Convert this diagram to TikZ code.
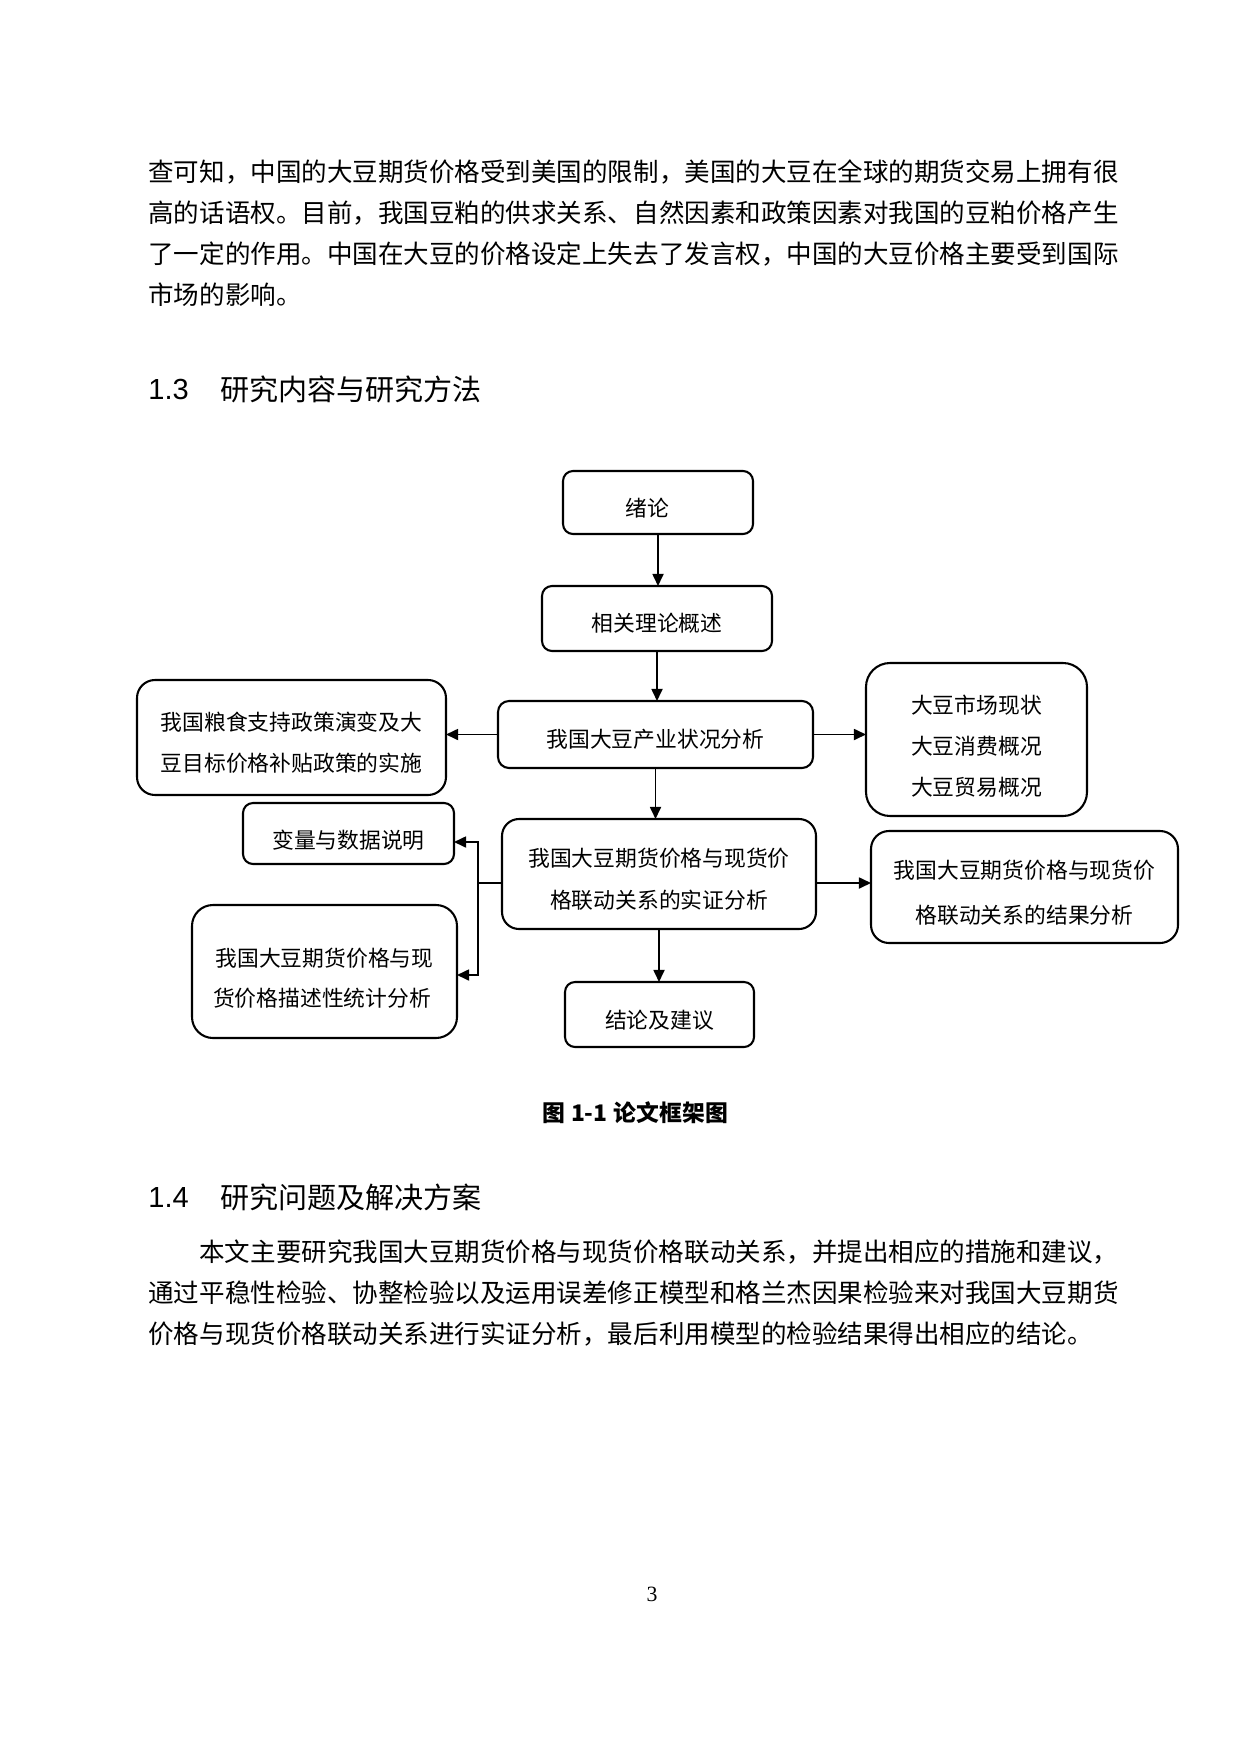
\documentclass[tikz,border=0pt]{standalone}
\usepackage{fontspec}
\newfontfamily\cjk{Noto Sans CJK SC}
\newfontfamily\tms{Liberation Serif}
\newfontfamily\arl{Liberation Sans}
\usetikzlibrary{arrows.meta}
% multi-line box text: #1 line pitch, #2 vertical shift, #3 rows separated by \cr
\newcommand\bt[3]{\raisebox{#2}[\height][\depth]{\vbox{\baselineskip=#1\lineskiplimit=-100pt\lineskip=0pt\halign{\hfil##\hfil\cr#3\crcr}}}}
\begin{document}
\begin{tikzpicture}[x=0.4818pt,y=-0.4818pt,
  bx/.style n args={3}{draw, line width=1pt, inner sep=0pt, outer sep=0pt,
     minimum width=#1*0.4818pt, minimum height=#2*0.4818pt,
     rounded corners=#3*0.4818pt, font=\cjk\fontsize{10.5pt}{13pt}\selectfont},
  arr/.style={-{Triangle[length=5.8pt,width=5.3pt]}, line width=0.85pt},
  ln/.style={line width=0.85pt},
  para/.style={anchor=west, inner sep=0pt, font=\cjk\fontsize{12.3pt}{15pt}\selectfont},
  head/.style={anchor=west, inner sep=0pt, font=\cjk\fontsize{14pt}{17pt}\selectfont},
  headnum/.style={anchor=west, inner sep=0pt, font=\arl\fontsize{14pt}{17pt}\selectfont}]
\useasboundingbox (0,0) rectangle (1240,1754);

% body text above
\node[para] (p1) at (148,172) {查可知，中国的大豆期货价格受到美国的限制，美国的大豆在全球的期货交易上拥有很};
\node[para] (p2) at (148,213) {高的话语权。目前，我国豆粕的供求关系、自然因素和政策因素对我国的豆粕价格产生};
\node[para] (p3) at (148,254) {了一定的作用。中国在大豆的价格设定上失去了发言权，中国的大豆价格主要受到国际};
\node[para] (p4) at (148,295) {市场的影响。};

% heading 1.3
\node[headnum] (h13n) at (148,389) {1.3};
\node[head] (h13) at (220,389) {研究内容与研究方法};

% boxes
\node[bx={190}{63}{10}] (A) at (658,502.5) {\raisebox{-2.65pt}[\height][\depth]{绪论\kern10.6pt}};
\node[bx={230}{65}{10}] (B) at (657,618.5) {\raisebox{-2.4pt}[\height][\depth]{相关理论概述}};
\node[bx={315}{67}{11}] (C) at (655.5,734.5) {\raisebox{-2.3pt}[\height][\depth]{我国大豆产业状况分析}};
\node[bx={309}{115}{18}] (D) at (291.5,737.5) {\bt{19.75pt}{-2.5pt}{我国粮食支持政策演变及大\cr 豆目标价格补贴政策的实施}};
\node[bx={221}{153}{24}] (E) at (976.5,739.5) {\bt{19.75pt}{-3.1pt}{大豆市场现状\cr 大豆消费概况\cr 大豆贸易概况}};
\node[bx={314}{110}{17}] (F) at (659,874) {\bt{20.24pt}{-2.5pt}{我国大豆期货价格与现货价\cr 格联动关系的实证分析}};
\node[bx={307}{112}{18}] (G) at (1024.5,887) {\bt{21.68pt}{-2.65pt}{我国大豆期货价格与现货价\cr 格联动关系的结果分析}};
\node[bx={211}{61}{10}] (H) at (348.5,833.5) {\raisebox{-3.1pt}[\height][\depth]{变量与数据说明}};
\node[bx={265}{133}{21}] (I) at (324.5,971.5) {\bt{19.27pt}{-3.1pt}{我国大豆期货价格与现\cr 货价格描述性统计分析\kern2.4pt}};
\node[bx={189}{65}{10}] (J) at (659.5,1014.5) {\raisebox{-2.65pt}[\height][\depth]{结论及建议}};

% connectors
\draw[arr] (A.south) -- (A.south |- B.north);
\draw[arr] (B.south) -- (B.south |- C.north);
\draw[arr] (C.west) -- (D.east |- C.west);
\draw[arr] (C.east) -- (E.west |- C.east);
\draw[arr] (C.south) -- (C.south |- F.north);
\draw[arr] (F.south) -- (F.south |- J.north);
\coordinate (fj) at (478,883);
\coordinate (hy) at (0,842);
\coordinate (iy) at (0,975);
\draw[arr] (F.east |- fj) -- (G.west |- fj);
\draw[ln] (F.west |- fj) -- (fj);
\draw[arr] (fj) |- (H.east |- hy);
\draw[arr] (fj) |- (I.east |- iy);

% caption
\node[inner sep=0pt, font=\cjk\bfseries\fontsize{11pt}{13pt}\selectfont] (cap) at (635,1113) {图\kern3pt 1-1\kern3pt 论文框架图};

% heading 1.4
\node[headnum] (h14n) at (148,1197) {1.4};
\node[head] (h14) at (220,1197) {研究问题及解决方案};

% body text below
\node[para] (q1) at (199,1252) {本文主要研究我国大豆期货价格与现货价格联动关系，并提出相应的措施和建议，};
\node[para] (q2) at (148,1293) {通过平稳性检验、协整检验以及运用误差修正模型和格兰杰因果检验来对我国大豆期货};
\node[para] (q3) at (148,1334) {价格与现货价格联动关系进行实证分析，最后利用模型的检验结果得出相应的结论。};

% page number
\node[inner sep=0pt, font=\tms\fontsize{10.5pt}{13pt}\selectfont] (pg) at (652,1594) {3};
\end{tikzpicture}
\end{document}
